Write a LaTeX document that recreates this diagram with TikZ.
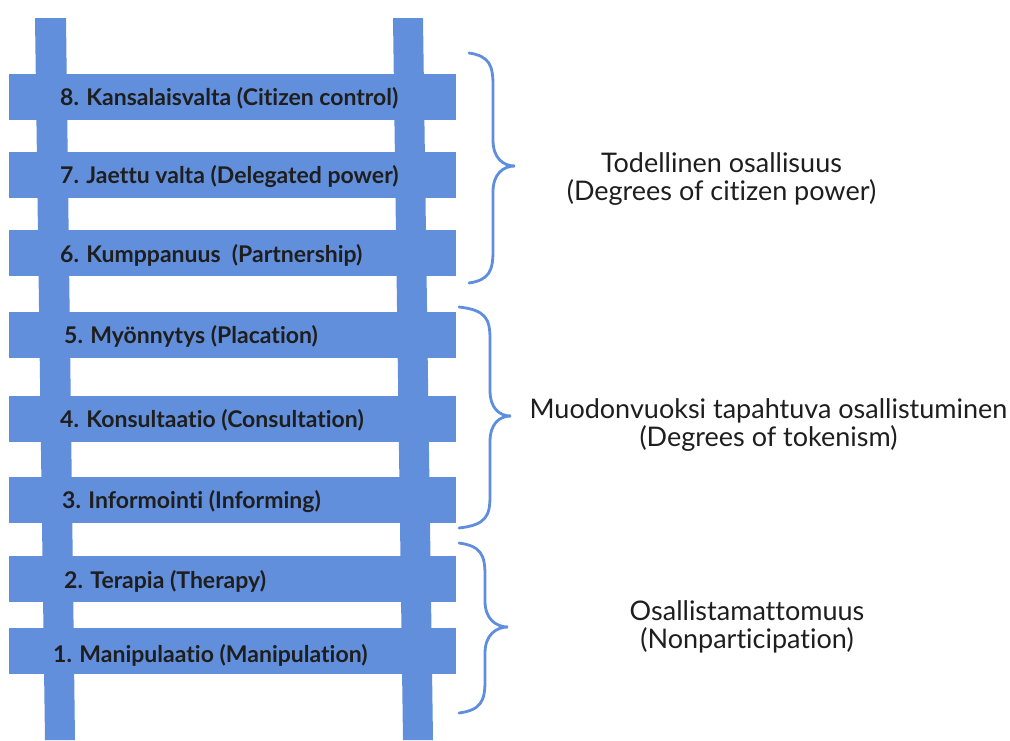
\documentclass[tikz,border=0pt]{standalone}
\usepackage{fontspec}
\setmainfont[Ligatures={NoCommon}]{Lato}
\definecolor{ladderblue}{RGB}{98,143,219}
\definecolor{braceblue}{RGB}{95,142,222}
\definecolor{labelgrey}{RGB}{30,30,30}
% curly brace: #1 x of ends, #2 x of straight part, #3 x of tip, #4 top y, #5 tip y, #6 bottom y
\newcommand\ladderbrace[6]{%
  \draw[bracestroke] (#1,#4) .. controls (#2-4,#4+3) and (#2,#4+12) .. (#2,#4+32)
    -- (#2,#5-26) .. controls (#2,#5-8) and (#3-12,#5) .. (#3,#5)
    .. controls (#3-12,#5) and (#2,#5+8) .. (#2,#5+26)
    -- (#2,#6-32) .. controls (#2,#6-12) and (#2-4,#6-3) .. (#1,#6);}
\begin{document}
\begin{tikzpicture}[x=1pt,y=-1pt,
  railpart/.style={fill=ladderblue,draw=none},
  rung/.style={fill=ladderblue,draw=none,rectangle,inner sep=0pt,minimum width=447pt,minimum height=46pt},
  steplabel/.style={anchor=west,inner sep=0pt,font=\fontsize{23}{26}\selectfont\bfseries,text=labelgrey},
  grouplabel/.style={align=center,inner sep=0pt,font=\fontsize{27}{28}\selectfont,text=labelgrey},
  bracestroke/.style={draw=braceblue,line width=2.8pt,line cap=round}]
\useasboundingbox (0,0) rectangle (1010,740);
% rails, leaning slightly to the right towards the bottom
\fill[railpart] (35,18) -- (66,18) -- (75,740) -- (45,740) -- cycle;
\fill[railpart] (393,18) -- (423,18) -- (433,740) -- (403,740) -- cycle;
% rungs
\node[rung] (r8) at (232,96.5) {};
\node[rung] (r7) at (232,174.5) {};
\node[rung] (r6) at (232,253) {};
\node[rung] (r5) at (232,334.5) {};
\node[rung] (r4) at (232,418.5) {};
\node[rung] (r3) at (232,499.5) {};
\node[rung] (r2) at (232,579) {};
\node[rung] (r1) at (232,651) {};
% rung labels
\node[steplabel] (l8) at (60,98) {8. Kansalaisvalta (Citizen control)};
\node[steplabel] (l7) at (60,177) {7. Jaettu valta (Delegated power)};
\node[steplabel] (l6) at (60,255) {6. Kumppanuus\ \ (Partnership)};
\node[steplabel] (l5) at (64,336) {5. Myönnytys (Placation)};
\node[steplabel] (l4) at (60,420) {4. Konsultaatio (Consultation)};
\node[steplabel] (l3) at (62,502) {3. Informointi (Informing)};
\node[steplabel] (l2) at (64,581) {2. Terapia (Therapy)};
\node[steplabel] (l1) at (53,655) {1. Manipulaatio (Manipulation)};
% braces grouping the rungs
\ladderbrace{469}{493}{515}{53}{166}{283}
\ladderbrace{459}{490}{511}{307}{416}{528}
\ladderbrace{459}{485}{508}{543}{627}{713}
% group labels
\node[grouplabel] (g3) at (721.5,179) {Todellinen osallisuus\\(Degrees of citizen power)};
\node[grouplabel] (g2) at (768.5,425) {Muodonvuoksi tapahtuva osallistuminen\\(Degrees of tokenism)};
\node[grouplabel] (g1) at (747,627) {Osallistamattomuus\\(Nonparticipation)};
\end{tikzpicture}
\end{document}
